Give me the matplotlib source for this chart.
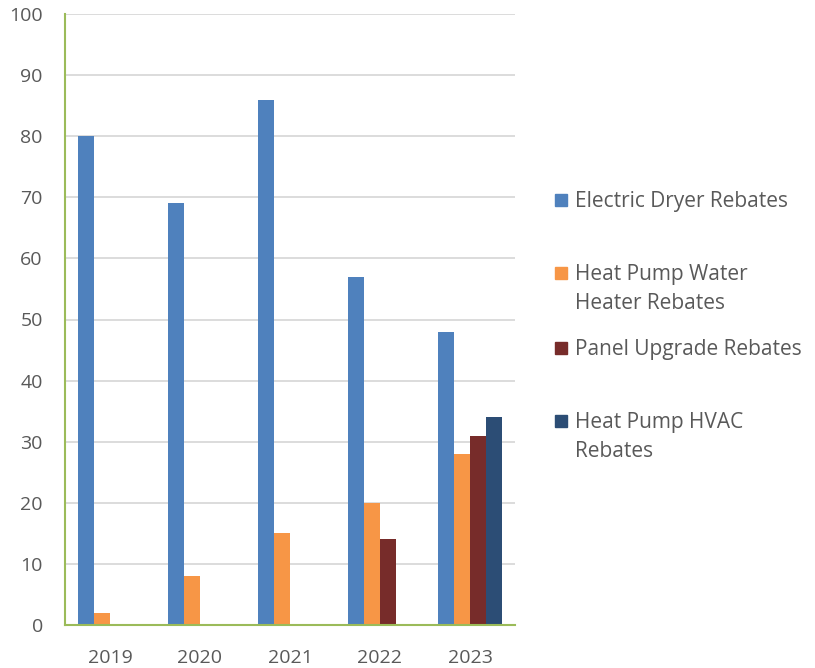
import matplotlib.pyplot as plt
import matplotlib.patches as mpatches
import numpy as np

years = ['2019', '2020', '2021', '2022', '2023']
dryer = [80, 69, 86, 57, 48]
water_heater = [2, 8, 15, 20, 28]
panel = [0, 0, 0, 14, 31]
hvac = [0, 0, 0, 0, 34]

series = [dryer, water_heater, panel, hvac]
labels = ['Electric Dryer Rebates', 'Heat Pump Water\nHeater Rebates',
          'Panel Upgrade Rebates', 'Heat Pump HVAC\nRebates']
colors = ['#4F81BD', '#F79646', '#772C2A', '#2C4D75']

plt.rcParams['font.family'] = ['Open Sans', 'DejaVu Sans']
text_color = '#595959'

fig = plt.figure(figsize=(8.15, 6.68), dpi=100)
ax = fig.add_axes([65 / 815, 1 - 625 / 668, 450 / 815, 611 / 668])

x = np.arange(len(years))
width = 0.178
for i, (vals, col) in enumerate(zip(series, colors)):
    ax.bar(x + (i - 1.5) * width, vals, width, color=col, zorder=3)

ax.set_xlim(-0.5, len(years) - 0.5)
ax.set_ylim(0, 100)
ax.set_yticks(range(0, 101, 10))
ax.set_xticks(x)
ax.set_xticklabels(years)
ax.yaxis.grid(True, color='#D9D9D9', linewidth=1.3, zorder=0)
ax.tick_params(length=0, labelsize=14, colors=text_color)
ax.tick_params(axis='x', pad=17)
ax.tick_params(axis='y', pad=16)
for s in ['top', 'right']:
    ax.spines[s].set_visible(False)
for s in ['left', 'bottom']:
    ax.spines[s].set_color('#9BBB59')
    ax.spines[s].set_linewidth(1.5)
    ax.spines[s].set_zorder(4)

# legend drawn by hand to match the uneven spacing
legend_y = [200, 273, 348, 421]
for lab, col, yp in zip(labels, colors, legend_y):
    fig.patches.append(mpatches.Rectangle((555 / 815, 1 - (yp + 6) / 668), 12 / 815, 12 / 668,
                                          transform=fig.transFigure, color=col))
    fig.text(575 / 815, 1 - (yp - 9) / 668, lab, fontsize=15, color=text_color,
             va='top', ha='left', linespacing=1.5)

fig.savefig('out.png', dpi=100)
